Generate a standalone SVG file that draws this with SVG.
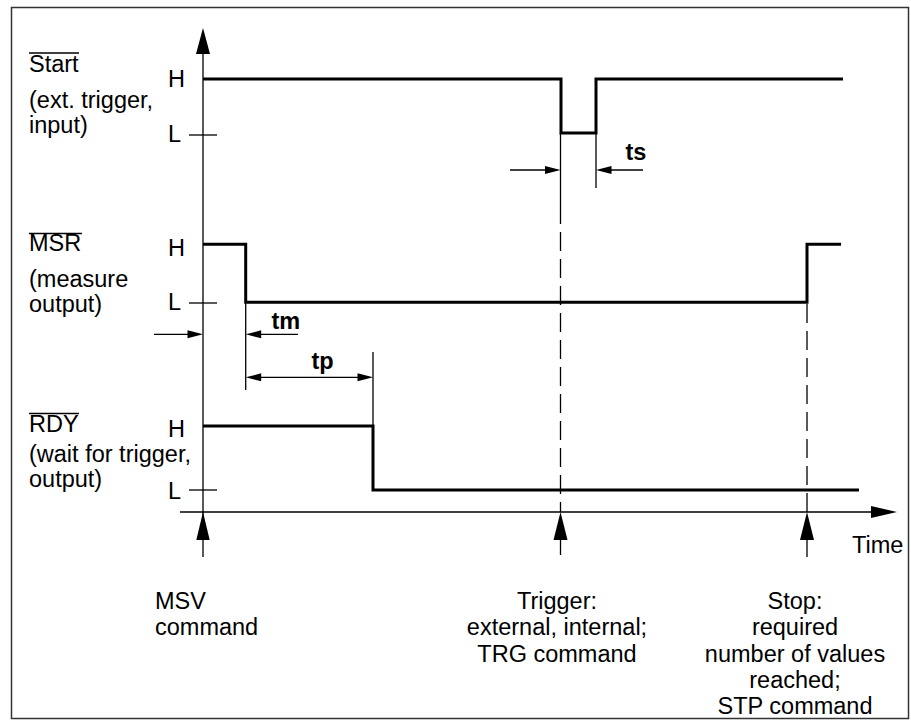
<svg xmlns="http://www.w3.org/2000/svg" width="911" height="720" viewBox="0 0 911 720">
<style>
text{font-family:"Liberation Sans",Arial,sans-serif;font-size:23.5px;fill:#000}
.b{font-weight:bold}
.m{text-anchor:middle}
.sig{fill:none;stroke:#000;stroke-width:3;stroke-linejoin:miter}
.thin{fill:none;stroke:#000;stroke-width:1.3}
.dash{fill:none;stroke:#000;stroke-width:1.3;stroke-dasharray:19 8}
.ov{stroke:#000;stroke-width:1.6}
.ah{fill:#000}
</style>
<rect x="11.5" y="7.5" width="897" height="711" fill="#fff" stroke="#333" stroke-width="1.5"/>

<g id="axes">
<line class="thin" x1="203" y1="40" x2="203" y2="557"/>
<polygon class="ah" points="203,28 196,54 210,54"/>
<line class="thin" x1="180" y1="512" x2="880" y2="512"/>
<polygon class="ah" points="897,512 871,506 871,518"/>
<text x="852" y="553">Time</text>
</g>

<g id="start-signal">
<line class="ov" x1="29" y1="53" x2="79" y2="53"/>
<text x="29" y="72.3">Start</text>
<text x="29" y="108.3">(ext. trigger,</text>
<text x="29" y="133.3">input)</text>
<text x="168" y="86.5">H</text>
<text x="168" y="142">L</text>
<line class="thin" x1="189" y1="135" x2="217" y2="135"/>
<path class="sig" d="M203,79 H561 V133 H596 V79 H843"/>
</g>

<g id="msr-signal">
<line class="ov" x1="29" y1="233.5" x2="82" y2="233.5"/>
<text x="29" y="251">MSR</text>
<text x="29" y="286.7">(measure</text>
<text x="29" y="311.7">output)</text>
<text x="168" y="255.5">H</text>
<text x="168" y="309.5">L</text>
<line class="thin" x1="189" y1="303" x2="217" y2="303"/>
<path class="sig" d="M203,244.3 H245.7 V302.3 H807 V244.3 H841"/>
</g>

<g id="rdy-signal">
<line class="ov" x1="29" y1="413.5" x2="79" y2="413.5"/>
<text x="29" y="432.3">RDY</text>
<text x="29" y="461.7">(wait for trigger,</text>
<text x="29" y="486.7">output)</text>
<text x="168" y="436.5">H</text>
<text x="168" y="499">L</text>
<line class="thin" x1="189" y1="490" x2="217" y2="490"/>
<path class="sig" d="M203,426 H373 V490 H859"/>
</g>

<g id="connectors">
<!-- ts -->
<line class="thin" x1="560.5" y1="133" x2="560.5" y2="205"/>
<line class="dash" x1="560.5" y1="205" x2="560.5" y2="512"/>
<line class="thin" x1="596" y1="133" x2="596" y2="188"/>
<line class="thin" x1="510" y1="170" x2="548" y2="170"/>
<polygon class="ah" points="560.5,170 545,166 545,174"/>
<line class="thin" x1="609" y1="170" x2="643" y2="170"/>
<polygon class="ah" points="596,170 611.5,166 611.5,174"/>
<text class="b" x="625.5" y="160">ts</text>
<!-- tm -->
<line class="thin" x1="245.7" y1="302" x2="245.7" y2="390"/>
<line class="thin" x1="154" y1="334.3" x2="190" y2="334.3"/>
<polygon class="ah" points="203,334.3 187.5,330.3 187.5,338.3"/>
<line class="thin" x1="258" y1="334.3" x2="298" y2="334.3"/>
<polygon class="ah" points="245.7,334.3 261.2,330.3 261.2,338.3"/>
<text class="b" x="271.5" y="329.3">tm</text>
<!-- tp -->
<line class="thin" x1="373" y1="352" x2="373" y2="426"/>
<line class="thin" x1="258" y1="377.3" x2="361" y2="377.3"/>
<polygon class="ah" points="245.7,377.3 261.2,373.3 261.2,381.3"/>
<polygon class="ah" points="373,377.3 357.5,373.3 357.5,381.3"/>
<text class="b" x="311.5" y="368.5">tp</text>
<!-- stop dashed -->
<line class="dash" x1="807" y1="304" x2="807" y2="512"/>
<!-- event arrows -->
<line class="thin" x1="560.5" y1="530" x2="560.5" y2="555"/>
<polygon class="ah" points="560.5,512 553.5,540 567.5,540"/>
<line class="thin" x1="807" y1="530" x2="807" y2="557"/>
<polygon class="ah" points="807,512 800,540 814,540"/>
<polygon class="ah" points="203,512 196.3,540 209.7,540"/>
</g>

<g id="msv-label">
<text x="155" y="609">MSV</text>
<text x="155" y="635">command</text>
</g>
<g id="trigger-label">
<text class="m" x="557" y="608.5">Trigger:</text>
<text class="m" x="557" y="635">external, internal;</text>
<text class="m" x="557" y="661.5">TRG command</text>
</g>
<g id="stop-label">
<text class="m" x="795" y="608.5">Stop:</text>
<text class="m" x="795" y="635">required</text>
<text class="m" x="795" y="661.5">number of values</text>
<text class="m" x="795" y="688">reached;</text>
<text class="m" x="795" y="714">STP command</text>
</g>
</svg>
